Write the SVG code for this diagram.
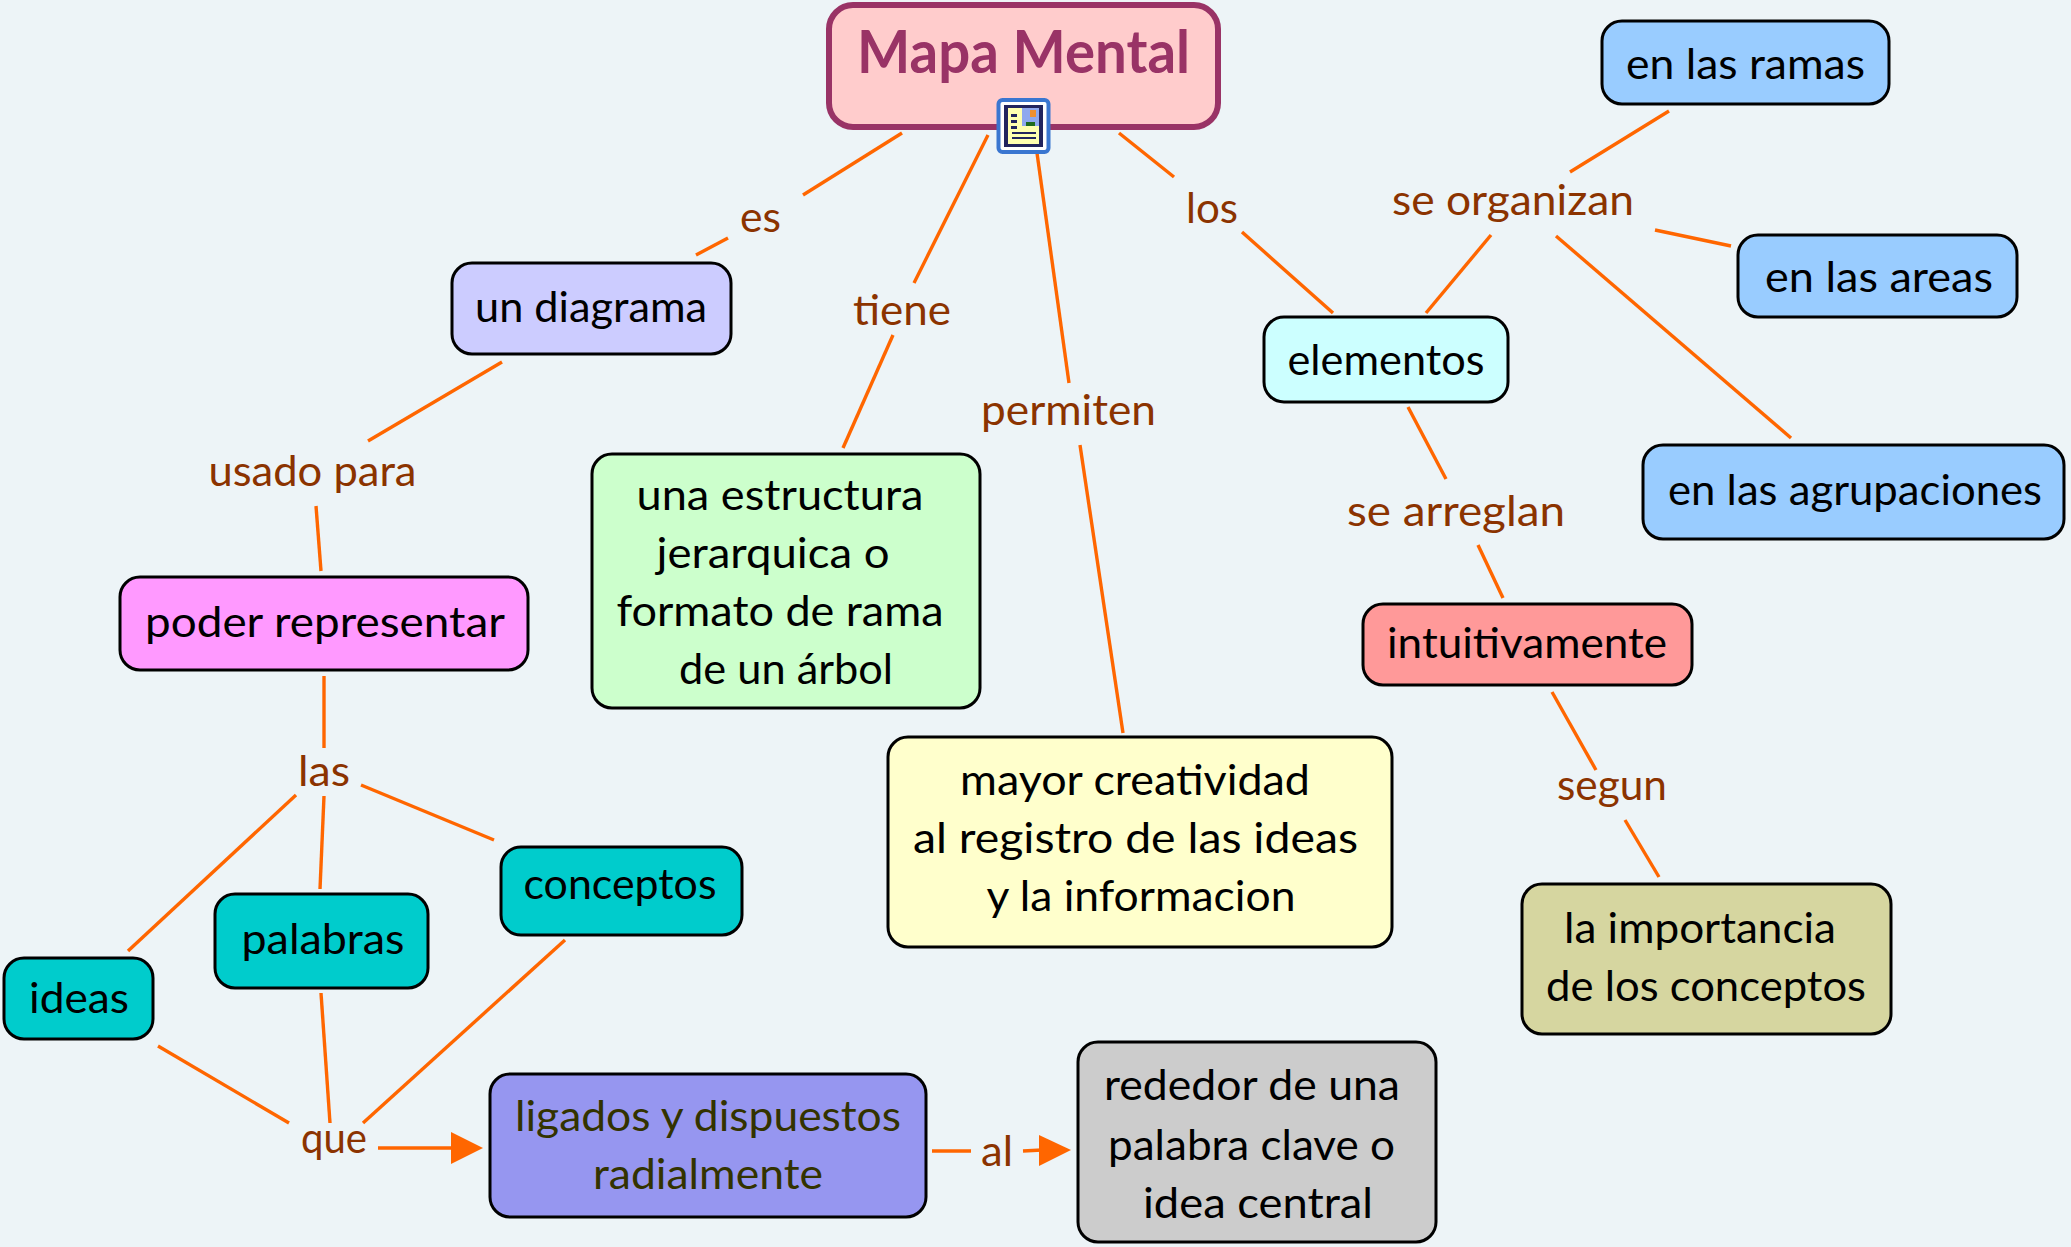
<svg xmlns="http://www.w3.org/2000/svg" width="2071" height="1247" viewBox="0 0 2071 1247">
<style>
text{font-family:"Lato","Noto Sans","Liberation Sans",sans-serif;font-size:43px;fill:#000;text-anchor:middle}
.n{stroke:#000;stroke-width:3}
.l{fill:#8b3300}
.d{fill:#333300}
#connectors line{stroke:#f60;stroke-width:3.4;fill:none}
#connectors polygon{fill:#f60}
</style>
<defs></defs>
<rect width="2071" height="1247" fill="#edf4f7"/>
<g id="connectors">
<line x1="902" y1="133" x2="803" y2="195"/><line x1="728" y1="238" x2="696" y2="255"/>
<line x1="988" y1="135" x2="914" y2="283"/><line x1="893" y1="335" x2="843" y2="448"/>
<line x1="1037" y1="153" x2="1069" y2="383"/><line x1="1080" y1="445" x2="1123" y2="733"/>
<line x1="1119" y1="133" x2="1174" y2="177"/><line x1="1242" y1="232" x2="1333" y2="313"/>
<line x1="1491" y1="235" x2="1426" y2="313"/>
<line x1="1669" y1="111" x2="1570" y2="172"/>
<line x1="1655" y1="230" x2="1731" y2="246"/>
<line x1="1556" y1="236" x2="1791" y2="438"/>
<line x1="1408" y1="407" x2="1446" y2="479"/><line x1="1478" y1="545" x2="1503" y2="598"/>
<line x1="1552" y1="692" x2="1596" y2="770"/><line x1="1625" y1="820" x2="1659" y2="877"/>
<line x1="502" y1="362" x2="368" y2="441"/><line x1="316" y1="506" x2="321" y2="571"/>
<line x1="324" y1="676" x2="324" y2="748"/><line x1="296" y1="795" x2="128" y2="951"/><line x1="324" y1="796" x2="320" y2="889"/><line x1="361" y1="785" x2="494" y2="840"/>
<line x1="158" y1="1046" x2="289" y2="1123"/><line x1="321" y1="993" x2="330" y2="1123"/><line x1="565" y1="940" x2="363" y2="1123"/>
<line x1="378" y1="1148" x2="452" y2="1148"/><polygon points="451,1132 483,1148 451,1164"/>
<line x1="932" y1="1151" x2="971" y2="1151"/><line x1="1023" y1="1151" x2="1042" y2="1150"/><polygon points="1039,1135 1071,1150 1039,1166"/>
</g>
<g id="lbl-es"><text class="l" x="760.5" y="232" textLength="41" lengthAdjust="spacingAndGlyphs">es</text></g>
<g id="lbl-tiene"><text class="l" x="902" y="325" textLength="98" lengthAdjust="spacingAndGlyphs">tiene</text></g>
<g id="lbl-permiten"><text class="l" x="1068.5" y="425" textLength="175" lengthAdjust="spacingAndGlyphs">permiten</text></g>
<g id="lbl-los"><text class="l" x="1212" y="223" textLength="52" lengthAdjust="spacingAndGlyphs">los</text></g>
<g id="lbl-organizan"><text class="l" x="1513" y="215" textLength="242" lengthAdjust="spacingAndGlyphs">se organizan</text></g>
<g id="lbl-arreglan"><text class="l" x="1456" y="526" textLength="218" lengthAdjust="spacingAndGlyphs">se arreglan</text></g>
<g id="lbl-segun"><text class="l" x="1612" y="800" textLength="110" lengthAdjust="spacingAndGlyphs">segun</text></g>
<g id="lbl-usado"><text class="l" x="312.5" y="486" textLength="208" lengthAdjust="spacingAndGlyphs">usado para</text></g>
<g id="lbl-las"><text class="l" x="324" y="786" textLength="52" lengthAdjust="spacingAndGlyphs">las</text></g>
<g id="lbl-que"><text class="l" x="334" y="1153" textLength="66" lengthAdjust="spacingAndGlyphs">que</text></g>
<g id="lbl-al"><text class="l" x="997" y="1166" textLength="32" lengthAdjust="spacingAndGlyphs">al</text></g>
<g id="mapa-mental"><rect x="829" y="5" width="389" height="122" rx="24" fill="#fcc" stroke="#936" stroke-width="6"/><text x="1023.5" y="73" style="font-size:60px;font-weight:700;fill:#936" textLength="333" lengthAdjust="spacingAndGlyphs">Mapa Mental</text>
<g id="icon"><rect x="998.5" y="100" width="50" height="52" rx="4" fill="#fff" stroke="#3a76d0" stroke-width="4"/><rect x="1004" y="105" width="39" height="42" fill="#22245e"/><rect x="1008" y="108" width="31" height="36" fill="#ffffb0"/><rect x="1022" y="108" width="17" height="18" fill="#8fa8ee"/><rect x="1030" y="110" width="6" height="7" fill="#f09030"/><rect x="1026" y="122" width="9" height="4" fill="#1e6a1e"/><g fill="#22245e"><rect x="1011" y="114" width="6" height="3"/><rect x="1011" y="120" width="6" height="3"/><rect x="1011" y="126" width="6" height="3"/><rect x="1012" y="132" width="24" height="2"/><rect x="1012" y="137" width="24" height="2"/></g></g></g>
<g id="un-diagrama"><rect class="n" x="452" y="263" width="279" height="91" rx="20" fill="#ccf"/><text x="591" y="322" textLength="232" lengthAdjust="spacingAndGlyphs">un diagrama</text></g>
<g id="estructura"><rect class="n" x="592" y="454" width="388" height="254" rx="20" fill="#cfc"/><text x="780" y="510" textLength="287" lengthAdjust="spacingAndGlyphs">una estructura</text><text x="773" y="568" textLength="233" lengthAdjust="spacingAndGlyphs">jerarquica o</text><text x="780" y="626" textLength="327" lengthAdjust="spacingAndGlyphs">formato de rama</text><text x="786" y="684" textLength="214" lengthAdjust="spacingAndGlyphs">de un árbol</text></g>
<g id="poder"><rect class="n" x="120" y="577" width="408" height="93" rx="20" fill="#f9f"/><text x="325" y="637" textLength="360" lengthAdjust="spacingAndGlyphs">poder representar</text></g>
<g id="elementos"><rect class="n" x="1264" y="317" width="244" height="85" rx="20" fill="#cff"/><text x="1386" y="375" textLength="197" lengthAdjust="spacingAndGlyphs">elementos</text></g>
<g id="ramas"><rect class="n" x="1602" y="21" width="287" height="83" rx="20" fill="#9cf"/><text x="1745.500" y="79" textLength="239" lengthAdjust="spacingAndGlyphs">en las ramas</text></g>
<g id="areas"><rect class="n" x="1738" y="235" width="279" height="82" rx="20" fill="#9cf"/><text x="1879" y="292" textLength="228" lengthAdjust="spacingAndGlyphs">en las areas</text></g>
<g id="agrupaciones"><rect class="n" x="1643" y="445" width="421" height="94" rx="20" fill="#9cf"/><text x="1855" y="505" textLength="374" lengthAdjust="spacingAndGlyphs">en las agrupaciones</text></g>
<g id="intuitivamente"><rect class="n" x="1363" y="604" width="329" height="81" rx="20" fill="#f99"/><text x="1527" y="658" textLength="280" lengthAdjust="spacingAndGlyphs">intuitivamente</text></g>
<g id="creatividad"><rect class="n" x="888" y="737" width="504" height="210" rx="20" fill="#ffc"/><text x="1135" y="795" textLength="350" lengthAdjust="spacingAndGlyphs">mayor creatividad</text><text x="1135.500" y="853" textLength="445" lengthAdjust="spacingAndGlyphs">al registro de las ideas</text><text x="1141" y="911" textLength="309" lengthAdjust="spacingAndGlyphs">y la informacion</text></g>
<g id="importancia"><rect class="n" x="1522" y="884" width="369" height="150" rx="20" fill="#d6d6a0"/><text x="1700" y="943" textLength="272" lengthAdjust="spacingAndGlyphs">la importancia</text><text x="1706" y="1001" textLength="320" lengthAdjust="spacingAndGlyphs">de los conceptos</text></g>
<g id="conceptos"><rect class="n" x="501" y="847" width="241" height="88" rx="20" fill="#0cc"/><text x="620" y="899" textLength="193" lengthAdjust="spacingAndGlyphs">conceptos</text></g>
<g id="palabras"><rect class="n" x="215" y="894" width="213" height="94" rx="20" fill="#0cc"/><text x="323" y="954" textLength="163" lengthAdjust="spacingAndGlyphs">palabras</text></g>
<g id="ideas"><rect class="n" x="4" y="958" width="149" height="81" rx="20" fill="#0cc"/><text x="79" y="1013" textLength="100" lengthAdjust="spacingAndGlyphs">ideas</text></g>
<g id="ligados"><rect class="n" x="490" y="1074" width="436" height="143" rx="20" fill="#9696f0"/><text class="d" x="708" y="1131" textLength="386" lengthAdjust="spacingAndGlyphs">ligados y dispuestos</text><text class="d" x="708" y="1189" textLength="230" lengthAdjust="spacingAndGlyphs">radialmente</text></g>
<g id="rededor"><rect class="n" x="1078" y="1042" width="358" height="200" rx="20" fill="#ccc"/><text x="1252" y="1100" textLength="296" lengthAdjust="spacingAndGlyphs">rededor de una</text><text x="1251.500" y="1160" textLength="287" lengthAdjust="spacingAndGlyphs">palabra clave o</text><text x="1258" y="1218" textLength="230" lengthAdjust="spacingAndGlyphs">idea central</text></g>
</svg>
